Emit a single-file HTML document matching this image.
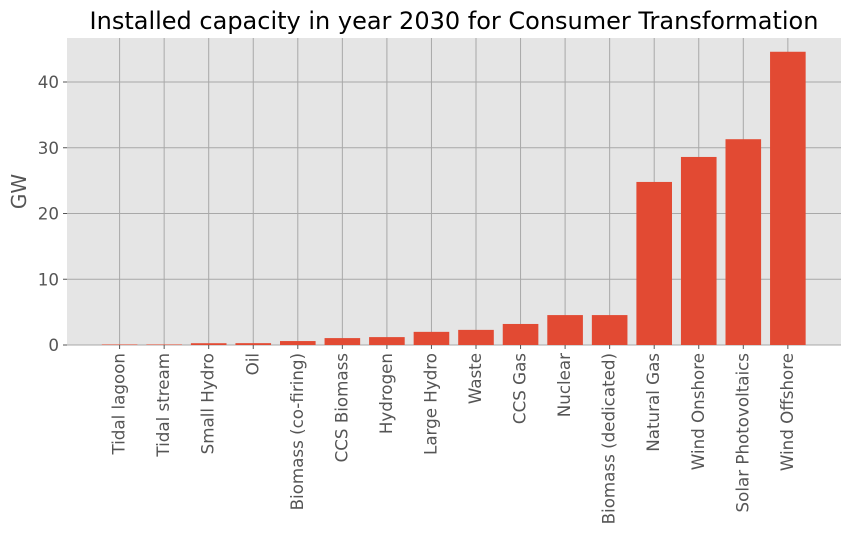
<!DOCTYPE html>
<html><head><meta charset="utf-8"><style>
body{margin:0;background:#fff;font-family:"DejaVu Sans","Liberation Sans",sans-serif}
</style></head><body>
<svg width="850" height="536" xmlns="http://www.w3.org/2000/svg">
<g id="root"></g>
</svg>
<script>
const categories=["Tidal lagoon","Tidal stream","Small Hydro","Oil","Biomass (co-firing)","CCS Biomass","Hydrogen","Large Hydro","Waste","CCS Gas","Nuclear","Biomass (dedicated)","Natural Gas","Wind Onshore","Solar Photovoltaics","Wind Offshore"];
const values=[0.08,0.08,0.27,0.28,0.6,1.05,1.2,2.0,2.3,3.2,4.55,4.55,24.8,28.6,31.3,44.6];
const yTicks=[0,10,20,30,40];
const NS="http://www.w3.org/2000/svg";
const root=document.getElementById('root');
const L=67,R=841,T=38,B=345;
const x0=119.6,step=44.55,bw=35.6;
function xs(i){return x0+i*step;}
function ys(v){return B-v*6.575;}
function mk(t,a,p){const e=document.createElementNS(NS,t);for(const k in a)e.setAttribute(k,a[k]);(p||root).appendChild(e);return e;}
const bg=mk('rect',{x:L,y:T,width:R-L,height:B-T,fill:'#E5E5E5'});


yTicks.forEach(v=>{
 const g=mk('line',{x1:L,x2:R,y1:ys(v),y2:ys(v),stroke:'#a8a8a8','stroke-width':1});
 
 
 mk('line',{x1:L-4,x2:L,y1:ys(v),y2:ys(v),stroke:'#555'});
 const t=mk('text',{x:L-8,y:ys(v)+6,'text-anchor':'end','font-size':16.7,fill:'#555'});
 t.textContent=v;
 
 
});
categories.forEach((c,i)=>{
 const g=mk('line',{x1:xs(i),x2:xs(i),y1:T,y2:B,stroke:'#a8a8a8','stroke-width':1});
 
 
});
categories.forEach((c,i)=>{
 const r=mk('rect',{x:xs(i)-bw/2,y:ys(values[i]),width:bw,height:B-ys(values[i]),fill:'#E24A33'});
 
 
 mk('line',{x1:xs(i),x2:xs(i),y1:B,y2:B+4,stroke:'#555'});
 const t=mk('text',{x:0,y:0,'text-anchor':'end','font-size':16.7,fill:'#555',transform:`translate(${xs(i)+5},${B+8}) rotate(-90)`});
 t.textContent=c;
 
 
});
const yt=mk('text',{x:0,y:0,'text-anchor':'middle','font-size':20,fill:'#555',transform:`translate(26,${(T+B)/2}) rotate(-90)`});
yt.textContent='GW';


const title=mk('text',{x:(L+R)/2,y:29,'text-anchor':'middle','font-size':24,fill:'#000'});
title.textContent='Installed capacity in year 2030 for Consumer Transformation';


</script>
</body></html>
